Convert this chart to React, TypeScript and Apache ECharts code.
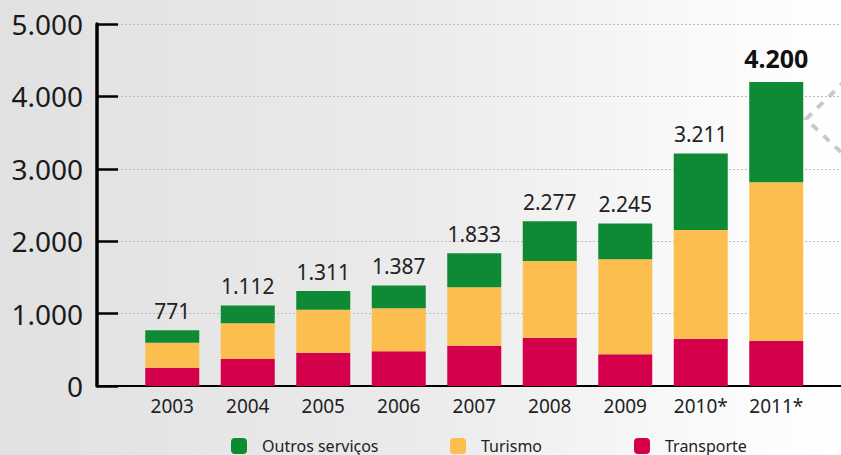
import React, { useEffect, useRef } from "react";
import * as echarts from "echarts";

const years = ["2003", "2004", "2005", "2006", "2007", "2008", "2009", "2010*", "2011*"];
const transporte = [253, 373, 460, 479, 557, 668, 438, 653, 626];
const turismo = [345, 493, 594, 594, 806, 1059, 1312, 1502, 2187];
const outros = [173, 246, 257, 314, 470, 550, 495, 1056, 1387];
const totals = [771, 1112, 1311, 1387, 1833, 2277, 2245, 3211, 4200];
const yTicks = [0, 1000, 2000, 3000, 4000, 5000];

const fmt = (n: number) =>
  n >= 1000 ? Math.floor(n / 1000) + "." + String(n % 1000).padStart(3, "0") : String(n);

const FONT = "Noto Sans";

export default function App() {
  const ref = useRef<HTMLDivElement>(null);
  useEffect(() => {
    if (!ref.current) return;
    const chart = echarts.init(ref.current, undefined, { renderer: "svg" });
    const legendBase = {
      top: 433,
      itemWidth: 16,
      itemHeight: 16,
      icon: "roundRect",
      textStyle: { fontFamily: FONT, fontSize: 16, color: "#222", padding: [0, 0, 0, 10] },
      selectedMode: false,
    };
    const yMin = yTicks[0];
    const yMax = yTicks[yTicks.length - 1];
    chart.setOption({
      animation: false,
      backgroundColor: {
        type: "linear",
        x: 0,
        y: 0,
        x2: 1,
        y2: 0,
        colorStops: [
          { offset: 0, color: "#e1e1e1" },
          { offset: 0.5, color: "#ebebeb" },
          { offset: 0.82, color: "#f9f9f9" },
          { offset: 1, color: "#ffffff" },
        ],
      },
      grid: [
        { left: 97, right: 0, top: 24, bottom: 69 },
        { left: 134.5, right: 27, top: 24, bottom: 69 },
      ],
      legend: [
        { ...legendBase, left: 226, data: ["Outros serviços"] },
        { ...legendBase, left: 445, data: ["Turismo"] },
        { ...legendBase, left: 629, data: ["Transporte"] },
      ],
      xAxis: [
        {
          gridIndex: 0,
          type: "value",
          min: 0,
          max: 1,
          splitLine: { show: false },
          axisTick: { show: false },
          axisLabel: { show: false },
          axisLine: { show: true, onZero: false, lineStyle: { color: "#000", width: 2 } },
        },
        {
          gridIndex: 1,
          type: "category",
          data: years,
          axisLine: { show: false },
          axisTick: { show: false },
          axisLabel: {
            margin: 10,
            fontFamily: FONT,
            fontSize: 19,
            color: "#222",
          },
        },
      ],
      yAxis: [
        {
          gridIndex: 0,
          type: "value",
          min: yMin,
          max: yMax,
          interval: 1000,
          axisLine: { show: true, onZero: false, lineStyle: { color: "#000", width: 3.5 } },
          axisTick: { show: true, inside: true, length: 21, lineStyle: { color: "#000", width: 2.5 } },
          splitLine: { show: true, lineStyle: { color: "#bdbdbd", type: [2, 2], width: 1 } },
          axisLabel: {
            margin: 14,
            fontFamily: FONT,
            fontSize: 28,
            color: "#1a1a1a",
            formatter: (v: number) => fmt(v),
          },
        },
        {
          gridIndex: 1,
          type: "value",
          min: yMin,
          max: yMax,
          interval: 1000,
          show: false,
          splitLine: { show: false },
        },
      ],
      graphic: [
        {
          type: "polyline",
          silent: true,
          shape: { points: [[846, 80], [806, 119], [846, 157]] },
          style: { stroke: "#c9c9c9", lineWidth: 4, lineDash: [8, 8], fill: null },
        },
      ],
      series: [
        {
          name: "Transporte",
          type: "bar",
          stack: "total",
          xAxisIndex: 1,
          yAxisIndex: 1,
          barWidth: 54,
          itemStyle: { color: "#d4004b" },
          data: transporte,
        },
        {
          name: "Turismo",
          type: "bar",
          stack: "total",
          xAxisIndex: 1,
          yAxisIndex: 1,
          barWidth: 54,
          itemStyle: { color: "#fcbf4f" },
          data: turismo,
        },
        {
          name: "Outros serviços",
          type: "bar",
          stack: "total",
          xAxisIndex: 1,
          yAxisIndex: 1,
          barWidth: 54,
          itemStyle: { color: "#0f8a34" },
          label: {
            show: true,
            position: "top",
            distance: 9,
            fontFamily: FONT,
            fontSize: 21,
            color: "#222",
          },
          data: outros.map((v, i) => {
            const last = i === outros.length - 1;
            return {
              value: v,
              label: {
                formatter: () => fmt(totals[i]),
                ...(last ? { fontWeight: "bold", fontSize: 25, color: "#111", distance: 11 } : {}),
              },
            };
          }),
        },
      ],
    });
    return () => chart.dispose();
  }, []);
  return (
    <div
      ref={ref}
      style={{ position: "fixed", left: 0, top: 0, width: 841, height: 455 }}
    />
  );
}
